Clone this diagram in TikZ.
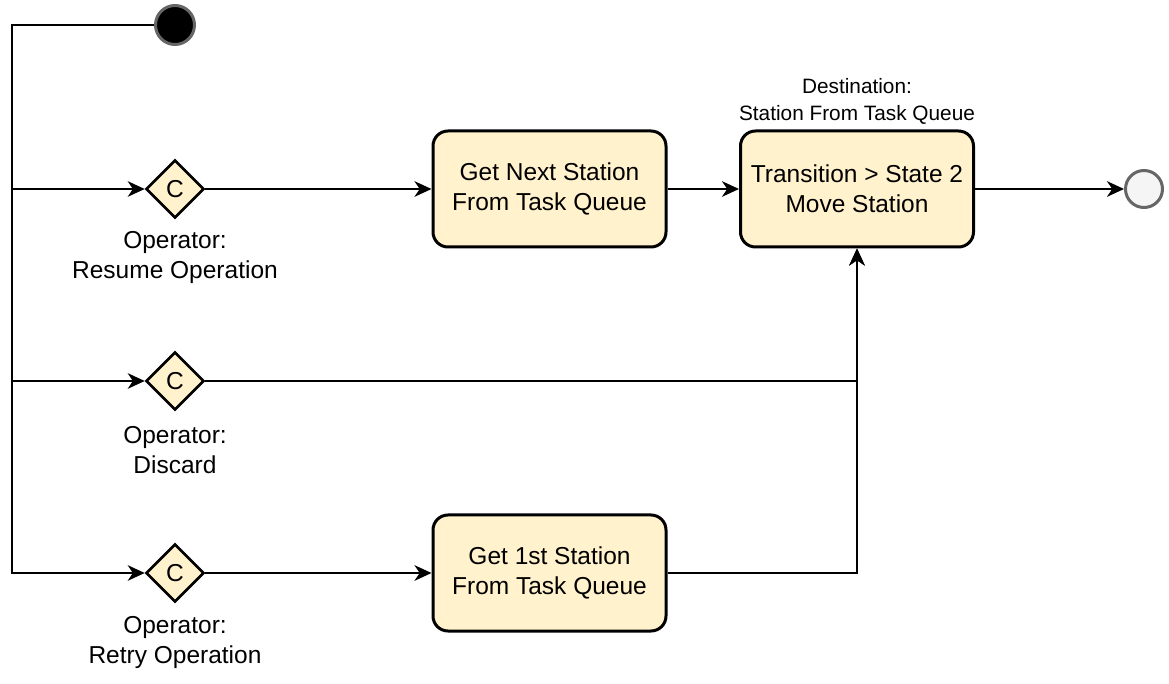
\documentclass[tikz,border=0pt]{standalone}
\usepackage{fontspec}
\setmainfont{Liberation Sans}
\usetikzlibrary{arrows.meta,shapes.geometric}

\definecolor{boxfill}{HTML}{FFF2CC}
\definecolor{ringgray}{HTML}{666666}
\definecolor{endfill}{HTML}{F5F5F5}

\tikzset{
  flow/.style={line width=1pt, -{Stealth[length=8.5pt,width=7.8pt,inset=2.6pt]}},
  plain/.style={line width=1pt},
  action/.style={draw, line width=1.5pt, fill=boxfill, rounded corners=7.5pt,
    minimum width=116.5pt, minimum height=58pt, inner sep=0pt, align=center,
    font=\fontsize{12.25}{15}\selectfont},
  choice/.style={draw, diamond, line width=1.3pt, fill=boxfill, aspect=1,
    minimum width=29pt, minimum height=29pt, inner sep=0pt,
    font=\fontsize{12.25}{15}\selectfont},
  caption/.style={align=center, inner sep=0pt, font=\fontsize{12.25}{15}\selectfont},
  smallcap/.style={align=center, inner sep=0pt, font=\fontsize{10.4}{13.5}\selectfont},
  startdot/.style={circle, draw=ringgray, line width=1.5pt, fill=black,
    minimum size=19.5pt, inner sep=0pt},
  enddot/.style={circle, draw=ringgray, line width=1.5pt, fill=endfill,
    minimum size=18.5pt, inner sep=0pt}
}

\begin{document}
\begin{tikzpicture}[x=0.5pt,y=-0.5pt]
  \useasboundingbox (0,0) rectangle (1169,684);

  % start and end markers
  \node[startdot] (start) at (175,25) {};
  \node[enddot] (finish) at (1144,189) {};

  % left rail shared by the three operator branches
  \coordinate (rail) at (12,25);

  % operator choices
  \node[choice] (resume) at (175,189) {C};
  \node[choice] (discard) at (175,381) {C};
  \node[choice] (retry) at (175,573) {C};

  \node[caption] (resumecap) at (175,257) {Operator:\\Resume Operation};
  \node[caption] (discardcap) at (175,450) {Operator:\\Discard};
  \node[caption] (retrycap) at (175,642) {Operator:\\Retry Operation};

  % actions
  \node[action] (nextst) at (549.5,189) {Get Next Station\\From Task Queue};
  \node[action] (move) at (857,189) {Transition > State 2\\Move Station};
  \node[action] (firstst) at (549.5,573) {Get 1st Station\\From Task Queue};

  \node[smallcap] (dest) at (857,101.5) {Destination:\\Station From Task Queue};

  % connectors
  \draw[flow] (start.west) -- (start.west -| rail) |- (resume.west);
  \draw[flow] (start.west) -- (start.west -| rail) |- (discard.west);
  \draw[flow] (start.west) -- (start.west -| rail) |- (retry.west);

  \draw[flow] (resume.east) -- (nextst.west);
  \draw[flow] (nextst.east) -- (move.west);
  \draw[flow] (move.east) -- (finish.west);

  \draw[flow] (discard.east) -| (move.south);
  \draw[flow] (retry.east) -- (firstst.west);
  \draw[flow] (firstst.east) -| (move.south);
\end{tikzpicture}
\end{document}
